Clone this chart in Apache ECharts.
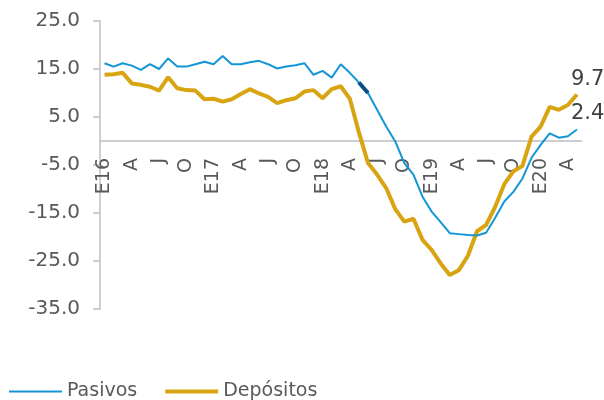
<!DOCTYPE html>
<html>
<head>
<meta charset="utf-8">
<script src="https://cdn.jsdelivr.net/npm/echarts@6/dist/echarts.min.js"></script>
<style>
html,body{margin:0;padding:0;background:#fff;}
#c{width:604px;height:400px;}
</style>
</head>
<body>
<div id="c"></div>
<script>
var months = ["2016-01","2016-02","2016-03","2016-04","2016-05","2016-06","2016-07","2016-08","2016-09","2016-10","2016-11","2016-12",
"2017-01","2017-02","2017-03","2017-04","2017-05","2017-06","2017-07","2017-08","2017-09","2017-10","2017-11","2017-12",
"2018-01","2018-02","2018-03","2018-04","2018-05","2018-06","2018-07","2018-08","2018-09","2018-10","2018-11","2018-12",
"2019-01","2019-02","2019-03","2019-04","2019-05","2019-06","2019-07","2019-08","2019-09","2019-10","2019-11","2019-12",
"2020-01","2020-02","2020-03","2020-04","2020-05"];
var tickLabels = ["E16","A","J","O","E17","A","J","O","E18","A","J","O","E19","A","J","O","E20","A"];
var pasivos = [16.2,15.5,16.2,15.7,14.8,16.0,15.0,17.2,15.5,15.5,16.0,16.5,
16.0,17.7,16.0,16.0,16.4,16.7,16.0,15.1,15.5,15.8,16.2,13.8,
14.6,13.2,16.0,14.2,12.2,10.0,6.5,3.0,-0.1,-4.6,-7.0,-11.6,
-14.7,-16.9,-19.2,-19.4,-19.6,-19.7,-19.1,-16.0,-12.6,-10.6,-7.8,-3.5,
-0.8,1.6,0.7,1.0,2.4];
var depositos = [13.8,13.9,14.2,12.0,11.7,11.3,10.5,13.3,11.0,10.6,10.5,8.7,
8.8,8.2,8.7,9.8,10.8,9.9,9.2,7.9,8.5,8.9,10.3,10.6,
8.9,10.8,11.4,8.8,1.8,-4.6,-7.0,-9.8,-14.2,-16.8,-16.2,-20.6,
-22.7,-25.5,-27.9,-26.9,-23.9,-18.8,-17.5,-13.7,-9.0,-6.3,-5.2,0.9,
3.0,7.1,6.5,7.5,9.7];
// highlighted dark segment on Pasivos (May-Jun 2018)
var pasivosHighlight = [null,null,null,null,null,null,null,null,null,null,null,null,
null,null,null,null,null,null,null,null,null,null,null,null,
null,null,null,null,12.2,10.0,null,null,null,null,null,null,
null,null,null,null,null,null,null,null,null,null,null,null,
null,null,null,null,null];

var FONT = "DejaVu Sans";
var GRAY = "#595959";
var chart = echarts.init(document.getElementById('c'), null, {renderer:'canvas'});
chart.setOption({
  animation: false,
  backgroundColor: '#ffffff',
  textStyle: {fontFamily: FONT},
  grid: {left: 100, right: 22.5, top: 21, bottom: 91, containLabel: false},
  legend: {
    left: 3, top: 377,
    itemWidth: 53, itemHeight: 12, itemGap: 26,
    data: [
      {name: 'Pasivos', lineStyle: {width: 2, color: '#1296d6'}},
      {name: 'Depósitos', lineStyle: {width: 4, color: '#d9a412'}}
    ],
    itemStyle: {opacity: 0},
    textStyle: {fontFamily: FONT, fontSize: 19, color: GRAY}
  },
  xAxis: {
    type: 'category',
    data: months,
    boundaryGap: true,
    position: 'bottom',
    offset: -168,
    axisLine: {onZero: false, lineStyle: {color: '#bfbfbf', width: 1.5}},
    axisTick: {show: false},
    axisLabel: {
      interval: 2, rotate: 90, margin: 17,
      fontFamily: FONT, fontSize: 19, color: GRAY,
      formatter: function (v, i) { return tickLabels[Math.round(i / 3)]; }
    },
    splitLine: {show: false}
  },
  yAxis: {
    type: 'value',
    min: -35, max: 25, interval: 10,
    axisLine: {show: true, lineStyle: {color: '#bfbfbf', width: 1.5}},
    axisTick: {show: true, length: 7, lineStyle: {color: '#bfbfbf', width: 1.5}},
    axisLabel: {
      margin: 20, fontFamily: FONT, fontSize: 20, color: GRAY,
      formatter: function (v) { return v.toFixed(1); }
    },
    splitLine: {show: false}
  },
  series: [
    {
      name: 'Pasivos', type: 'line', data: pasivos,
      symbol: 'none', smooth: false,
      lineStyle: {color: '#1296d6', width: 2},
      itemStyle: {color: '#1296d6'},
      endLabel: {show: true, formatter: '{c}', fontFamily: FONT, fontSize: 21, color: '#404040', offset: [-14, -16]},
      z: 3
    },
    {
      name: 'Depósitos', type: 'line', data: depositos,
      symbol: 'none', smooth: false,
      lineStyle: {color: '#d9a412', width: 4},
      itemStyle: {color: '#d9a412'},
      endLabel: {show: true, formatter: '{c}', fontFamily: FONT, fontSize: 21, color: '#404040', offset: [-14, -15]},
      z: 2
    },
    {
      name: 'hl', type: 'line', data: pasivosHighlight,
      symbol: 'none', connectNulls: false,
      lineStyle: {color: '#0b4f86', width: 4},
      z: 4, silent: true
    }
  ]
});
</script>
</body>
</html>
